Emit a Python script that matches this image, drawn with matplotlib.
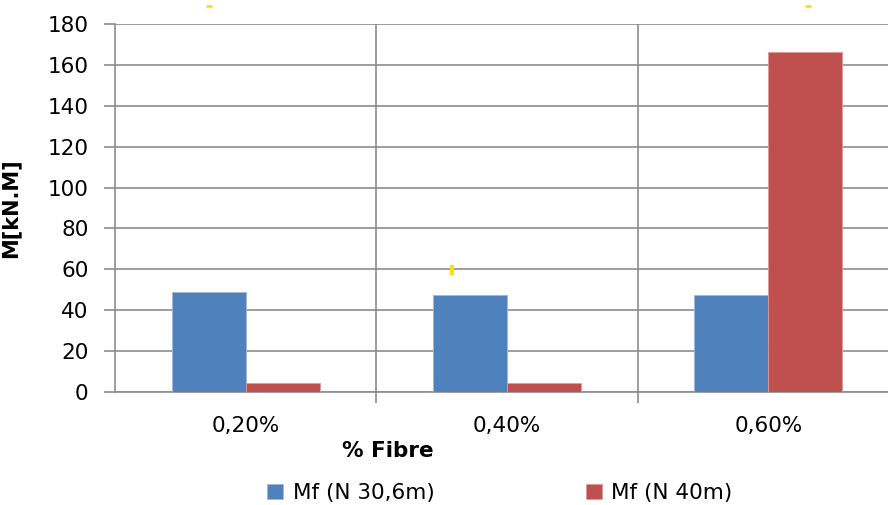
import numpy as np
import matplotlib.pyplot as plt

categories = ["0,20%", "0,40%", "0,60%"]
series_names = ["Mf (N 30,6m)", "Mf (N 40m)"]
mf_30 = [49, 47.5, 47.5]
mf_40 = [4.2, 4.2, 166.5]
# small yellow marks left over in the original (category position, value)
mark_x = [-0.14, 0.79, 2.15]
mark_y = [189, 59.5, 189]

blue = "#4f81bd"
red = "#c0504d"
grid_c = "#8c8c8c"

fig = plt.figure(figsize=(8.88, 5.05), dpi=100)
ax = fig.add_axes([115 / 888, 1 - 392 / 505, 784 / 888, 368 / 505])

x = np.arange(len(categories))
w = 0.283
ax.bar(x - w / 2, mf_30, w, color=blue, edgecolor="#9db8dc", linewidth=0.6, label=series_names[0], zorder=3)
ax.bar(x + w / 2, mf_40, w, color=red, edgecolor="#dc9a98", linewidth=0.6, label=series_names[1], zorder=3)

ax.plot(mark_x[0], mark_y[0], marker="_", color="#ffe000", markersize=5, mew=2, clip_on=False, zorder=4)
ax.plot(mark_x[1], mark_y[1], marker="|", color="#ffe000", markersize=7, mew=3, clip_on=False, zorder=4)
ax.plot(mark_x[2], mark_y[2], marker="_", color="#ffe000", markersize=5, mew=2, clip_on=False, zorder=4)

ax.set_xlim(-0.5, 2.5)
ax.set_ylim(0, 180)
ax.set_yticks(range(0, 181, 20))
ax.set_xticks(x)
ax.set_xticklabels(categories)
ax.set_xticks([0.5, 1.5], minor=True)

ax.grid(axis="y", color=grid_c, linewidth=1.2, zorder=0)
for b in [0.5, 1.5]:
    ax.axvline(b, color=grid_c, linewidth=1.2, zorder=0)

for s in ["top", "right"]:
    ax.spines[s].set_visible(False)
for s in ["left", "bottom"]:
    ax.spines[s].set_color(grid_c)
    ax.spines[s].set_linewidth(1.2)

ax.tick_params(axis="y", length=8, color=grid_c, width=1.2, labelsize=15.5, pad=11)
ax.tick_params(axis="x", which="major", length=0, labelsize=15.5, pad=17)
ax.tick_params(axis="x", which="minor", length=8, color=grid_c, width=1.2)

ax.set_ylabel("M[kN.M]", fontsize=15, fontweight="bold")
ax.yaxis.set_label_coords(-0.121, 0.5)
fig.text(388 / 888, 1 - 451 / 505, "% Fibre", fontsize=15.5, fontweight="bold", ha="center", va="center")

fig.legend(loc="center", bbox_to_anchor=(500 / 888, 1 - 493 / 505), ncol=2, frameon=False,
           fontsize=15.5, handlelength=0.75, handleheight=0.75, columnspacing=7.0, handletextpad=0.45)

fig.savefig("out.png", dpi=100)
